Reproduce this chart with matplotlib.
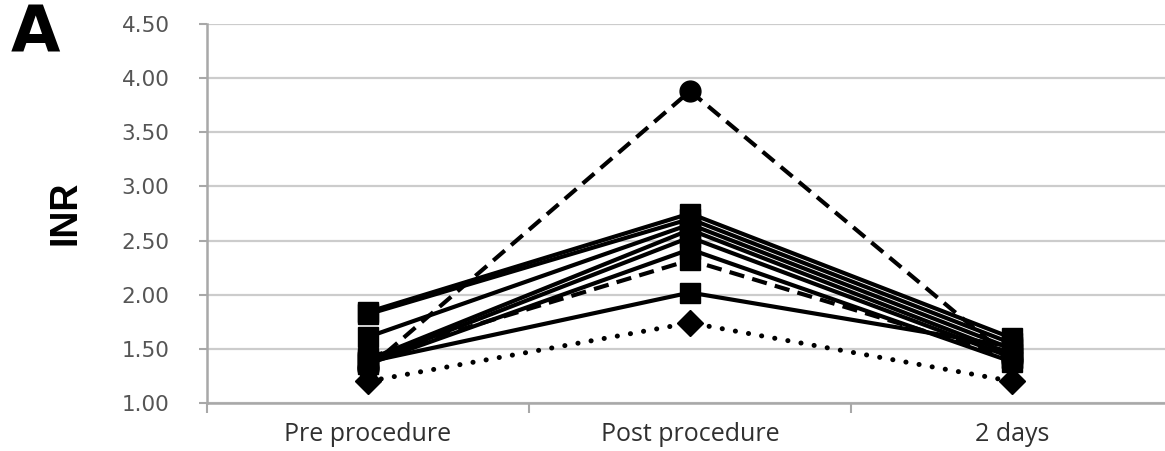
import matplotlib
matplotlib.use("Agg")
import matplotlib.pyplot as plt
import numpy as np

plt.rcParams['lines.scale_dashes'] = False

# Time points
categories = ["Pre procedure", "Post procedure", "2 days"]

# INR per patient (solid lines, square markers)
solid_1 = [1.84, 2.75, 1.60]
solid_2 = [1.82, 2.70, 1.55]
solid_3 = [1.61, 2.65, 1.50]
solid_4 = [1.40, 2.60, 1.45]
solid_5 = [1.38, 2.53, 1.42]
solid_6 = [1.36, 2.42, 1.38]
solid_7 = [1.38, 2.02, 1.52]
# dashed patients
dashed_circle = [1.32, 3.88, 1.40]
dashed_square = [1.42, 2.32, 1.42]
# dotted patient
dotted_diamond = [1.20, 1.74, 1.20]

y_ticks = [1.00, 1.50, 2.00, 2.50, 3.00, 3.50, 4.00, 4.50]

W, H = 1165, 451
fig = plt.figure(figsize=(W / 100, H / 100), dpi=100)
ax = fig.add_axes([207 / W, 48 / H, (1173 - 207) / W, (403 - 24) / H])

x = np.arange(len(categories))

ax.set_xlim(-0.5, 2.5)
ax.set_ylim(1.0, 4.5)

# grid and axes styling
ax.set_yticks(y_ticks)
ax.set_yticklabels([f"{v:.2f}" for v in y_ticks])
ax.yaxis.grid(True, color="#cccccc", linewidth=1.6, zorder=0)
ax.set_axisbelow(True)
for s in ["top", "right"]:
    ax.spines[s].set_visible(False)
for s in ["left", "bottom"]:
    ax.spines[s].set_color("#a8a8a8")
    ax.spines[s].set_linewidth(1.8)

ax.set_xticks(x)
ax.set_xticklabels(categories, fontfamily="Open Sans", fontsize=18, color="#303030")
ax.tick_params(axis="x", which="major", length=0, pad=14)
ax.set_xticks([-0.5, 0.5, 1.5, 2.5], minor=True)
ax.tick_params(axis="x", which="minor", length=7, width=1.5, color="#a8a8a8", direction="out")
ax.tick_params(axis="y", length=6, width=1.5, color="#a8a8a8", direction="out",
               pad=21, labelsize=15.5, labelcolor="#555555")
for lab in ax.get_yticklabels():
    lab.set_fontfamily("DejaVu Sans")

lw = 3.0
ms_sq = 14.5
# solid series
for ys in [solid_7, solid_6, solid_5, solid_4, solid_3, solid_2, solid_1]:
    ax.plot(x, ys, color="black", linewidth=lw, marker="s", markersize=ms_sq,
            solid_joinstyle="miter", zorder=3)

# dashed series
ax.plot(x, dashed_square, color="black", linewidth=lw, linestyle=(0, (11, 6)),
        marker="s", markersize=ms_sq, zorder=3)
ax.plot(x, dashed_circle, color="black", linewidth=lw, linestyle=(0, (11, 6)),
        marker="o", markersize=15, zorder=3)

# dotted series
ax.plot(x, dotted_diamond, color="black", linewidth=3.6, linestyle=(0, (0.1, 9.5)),
        dash_capstyle="round", marker="D", markersize=13, zorder=3)

fig.text(65 / W, 1 - 213 / H, "INR", rotation=90, ha="center", va="center",
         fontfamily="Liberation Sans", fontweight="bold", fontsize=27, color="black")
fig.text(11 / W, 1 - 3 / H, "A", ha="left", va="top",
         fontfamily="DejaVu Sans", fontweight="bold", fontsize=46, color="black")

fig.savefig("out.png", dpi=100)
